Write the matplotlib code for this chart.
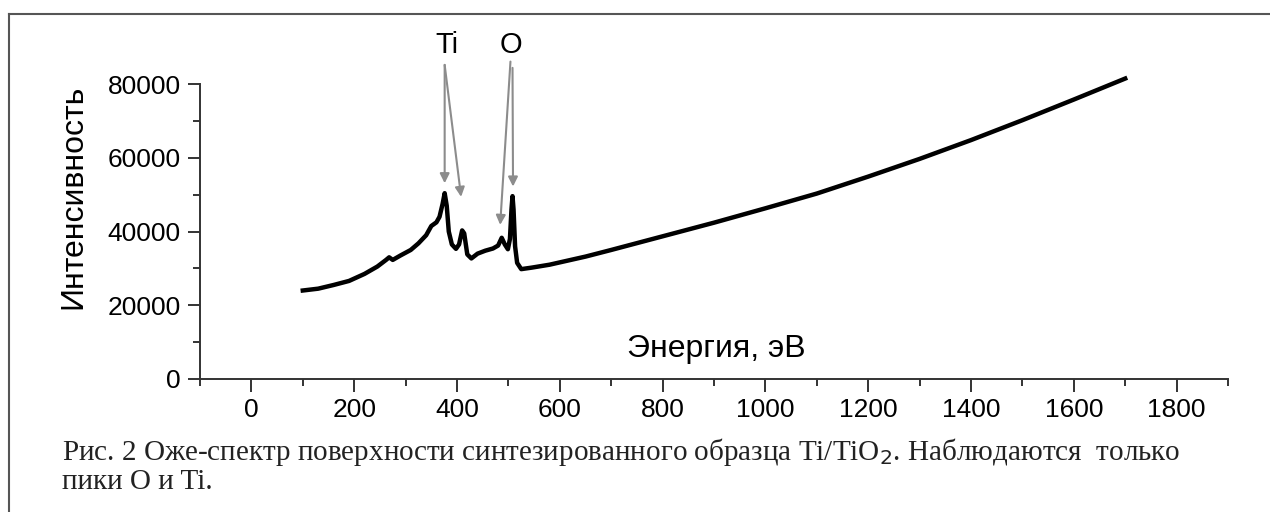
import matplotlib
matplotlib.use("Agg")
import matplotlib.pyplot as plt
from matplotlib.lines import Line2D
from matplotlib.ticker import MultipleLocator

# Оже-спектр Ti/TiO2
energia = [100, 130, 160, 190, 220, 245, 262, 268, 275, 290, 310, 325, 340, 350,
           360, 366, 372, 376, 380, 384, 390, 398, 404, 410, 414, 420, 428, 440,
           455, 470, 480, 487, 493, 499, 503, 506, 508, 510, 513, 517, 525, 545,
           580, 650, 700, 800, 900, 1000, 1100, 1200, 1300, 1400, 1500, 1600, 1700]
intensidade = [24000, 24500, 25500, 26600, 28500, 30500, 32300, 33000, 32300, 33500,
               35000, 36800, 39000, 41500, 42500, 44000, 47500, 50400, 47000, 40000,
               36500, 35300, 36500, 40300, 39500, 33800, 32700, 34000, 34800, 35400,
               36200, 38300, 36500, 35200, 38000, 46000, 49600, 46000, 36000, 31500,
               29800, 30200, 31000, 33200, 35000, 38700, 42400, 46300, 50300, 54900,
               59700, 64800, 70200, 75800, 81500]

# setas dos picos: (inicio, fim)
picos_ti = [((376, 85200), (376, 53100)), ((376, 85200), (408, 49400))]
picos_o = [((504, 86100), (484, 41800)), ((508, 84400), (509, 52200))]

legenda = ("Рис. 2 Оже-спектр поверхности синтезированного образца Ti/TiO$_2$. Наблюдаются  только\n"
           "пики O и Ti.")

fig = plt.figure(figsize=(12.7, 5.12), dpi=100)
ax = fig.add_axes([200 / 1270, 0.2598, 1028 / 1270, 0.648])

ax.plot(energia, intensidade, color='black', lw=3.2)

ax.set_xlim(-100, 1900)
ax.set_ylim(0, 90000)
ax.spines['top'].set_visible(False)
ax.spines['right'].set_visible(False)
ax.spines['left'].set_bounds(0, 80000)
for s in ['left', 'bottom']:
    ax.spines[s].set_linewidth(1.4)
    ax.spines[s].set_color('#333333')

ax.xaxis.set_major_locator(MultipleLocator(200))
ax.xaxis.set_minor_locator(MultipleLocator(100))
ax.set_yticks([0, 20000, 40000, 60000, 80000])
ax.set_yticks([10000, 30000, 50000, 70000], minor=True)
ax.tick_params(which='major', length=9, width=1.4, color='#333333', pad=5,
               labelsize=19)
ax.tick_params(which='minor', length=5, width=1.4, color='#333333')
for lab in ax.get_xticklabels() + ax.get_yticklabels():
    lab.set_fontfamily('Liberation Sans')

ax.set_xlabel('Энергия, эВ', fontsize=23, family='Liberation Sans', va='center')
ax.xaxis.set_label_coords(0.502, 0.090)
ax.set_ylabel('Интенсивность', fontsize=23, family='Liberation Sans', va='center')
ax.yaxis.set_label_coords(-0.1235, 0.548)

# rotulos e setas
ax.text(380, 90600, 'Ti', fontsize=21, family='Liberation Sans', ha='center', va='center')
ax.text(505, 90600, 'O', fontsize=21, family='Liberation Sans', ha='center', va='center')
for ini, fim in picos_ti + picos_o:
    ax.annotate('', xy=fim, xytext=ini,
                arrowprops=dict(arrowstyle='-|>', color='#8c8c8c', lw=1.5,
                                mutation_scale=14, shrinkA=0, shrinkB=0))

# legenda da figura
fig.text(62 / 1270, 1 - 489 / 512, legenda, fontsize=21, family='Liberation Serif',
         color='#222222', va='baseline', linespacing=1.05)

# moldura
fig.add_artist(Line2D([9 / 1270, 9 / 1270], [0, 1 - 14 / 512], color='#555555', lw=1.5))
fig.add_artist(Line2D([9 / 1270, 1], [1 - 14 / 512, 1 - 14 / 512], color='#555555', lw=1.5))

fig.savefig('out.png', dpi=100)
